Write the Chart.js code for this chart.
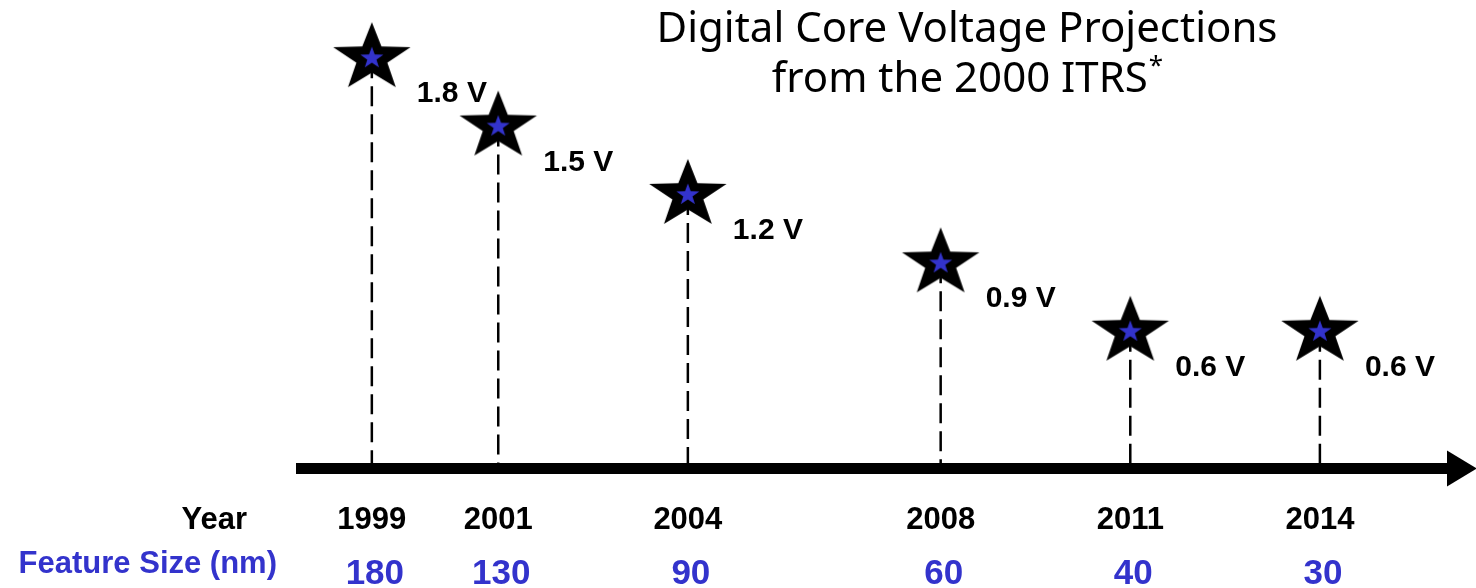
<!DOCTYPE html>
<html>
<head>
<meta charset="utf-8">
<script src="https://cdn.jsdelivr.net/npm/chart.js@4.4.1/dist/chart.umd.min.js"></script>
<style>
  html, body { margin: 0; padding: 0; background: #fff; }
  #wrap { width: 1476px; height: 588px; }
</style>
</head>
<body>
<div id="wrap"><canvas id="volt-chart" width="1476" height="588"></canvas></div>
<script>
const years = [1999, 2001, 2004, 2008, 2011, 2014]
const voltages = [1.8, 1.5, 1.2, 0.9, 0.6, 0.6]
const featureSizes = [180, 130, 90, 60, 40, 30]
const titleLines = ["Digital Core Voltage Projections", "from the 2000 ITRS"]

const blue = "#3333cc"

function starPath(ctx, cx, cy, r, sx, inner) {
    ctx.beginPath()
    for (let i = 0; i < 10; i++) {
        let rad = (i % 2 == 0) ? r : r * inner
        let a = -Math.PI / 2 + i * Math.PI / 5
        let px = cx + Math.cos(a) * rad * sx
        let py = cy + Math.sin(a) * rad
        if (i == 0) ctx.moveTo(px, py)
        else ctx.lineTo(px, py)
    }
    ctx.closePath()
}

function makeStar() {
    let c = document.createElement("canvas")
    c.width = 96
    c.height = 80
    let ctx = c.getContext("2d")
    starPath(ctx, 48, 40, 36, 1.13, 0.4)
    ctx.fillStyle = "#000"
    ctx.fill()
    starPath(ctx, 48, 40, 11.5, 1.05, 0.4)
    ctx.fillStyle = blue
    ctx.fill()
    return c
}

const decorations = {
    id: "decorations",
    beforeDatasetsDraw(chart) {
        let ctx = chart.ctx
        let xs = chart.scales.x
        let ys = chart.scales.y
        let y0 = ys.getPixelForValue(0)
        ctx.save()
        // dashed drops
        ctx.strokeStyle = "#000"
        ctx.lineWidth = 2.5
        ctx.setLineDash([20, 8])
        years.forEach((yr, i) => {
            let px = xs.getPixelForValue(yr)
            ctx.beginPath()
            ctx.moveTo(px, ys.getPixelForValue(voltages[i]))
            ctx.lineTo(px, y0)
            ctx.stroke()
        })
        ctx.setLineDash([])
        // axis arrow
        let left = chart.chartArea.left
        let right = chart.chartArea.right
        ctx.fillStyle = "#000"
        ctx.fillRect(left, y0 - 5.5, right - left - 26, 11)
        ctx.beginPath()
        ctx.moveTo(right - 29, y0 - 18)
        ctx.lineTo(right + 1, y0)
        ctx.lineTo(right - 29, y0 + 18)
        ctx.closePath()
        ctx.fill()
        ctx.restore()
    },
    afterDatasetsDraw(chart) {
        let ctx = chart.ctx
        let xs = chart.scales.x
        let ys = chart.scales.y
        ctx.save()
        // voltage labels
        ctx.font = "bold 30px 'Liberation Sans', Arial, sans-serif"
        ctx.fillStyle = "#000"
        ctx.textAlign = "left"
        ctx.textBaseline = "alphabetic"
        years.forEach((yr, i) => {
            let px = xs.getPixelForValue(yr)
            let py = ys.getPixelForValue(voltages[i])
            ctx.fillText(voltages[i].toFixed(1) + " V", px + 45, py + 44)
        })
        // year row
        ctx.font = "bold 31px 'Liberation Sans', Arial, sans-serif"
        ctx.textAlign = "right"
        ctx.fillText("Year", 247, 529)
        ctx.textAlign = "center"
        years.forEach(yr => {
            ctx.fillText(String(yr), xs.getPixelForValue(yr), 529)
        })
        // feature size row
        ctx.fillStyle = blue
        ctx.textAlign = "right"
        ctx.fillText("Feature Size (nm)", 277, 573)
        ctx.font = "bold 35px 'Liberation Sans', Arial, sans-serif"
        ctx.textAlign = "center"
        years.forEach((yr, i) => {
            ctx.fillText(String(featureSizes[i]), xs.getPixelForValue(yr) + 3, 584)
        })
        // title
        let cx = 967
        let tFont = "42px 'Comic Sans MS', 'Noto Sans', sans-serif"
        let sFont = "26px 'Comic Sans MS', 'Noto Sans', sans-serif"
        ctx.fillStyle = "#000"
        ctx.font = tFont
        ctx.fillText(titleLines[0], cx, 42)
        let w = ctx.measureText(titleLines[1]).width
        ctx.font = sFont
        let wa = ctx.measureText("*").width
        ctx.font = tFont
        ctx.textAlign = "left"
        let startX = cx - (w + wa) / 2
        ctx.fillText(titleLines[1], startX, 92)
        ctx.font = sFont
        ctx.fillText("*", startX + w + 1, 74)
        ctx.restore()
    }
}

;(function () {
    'use strict'

    let canvas = document.getElementById("volt-chart")
    let star = makeStar()
    let config = {
        type: "scatter",
        data: {
            datasets: [
                {
                    data: years.map((yr, i) => ({ x: yr, y: voltages[i] })),
                    pointStyle: star,
                    pointRadius: 40,
                    pointHoverRadius: 40,
                    showLine: false,
                    clip: false
                }
            ]
        },
        options: {
            responsive: false,
            animation: false,
            events: [],
            layout: {
                autoPadding: false,
                padding: { left: 296, right: 0, top: 0, bottom: 119.5 }
            },
            plugins: {
                legend: { display: false },
                tooltip: { enabled: false },
                title: { display: false }
            },
            scales: {
                x: {
                    type: "linear",
                    display: false,
                    min: 1997.8,
                    max: 2016.47
                },
                y: {
                    display: false,
                    min: 0,
                    max: 2.055
                }
            }
        },
        plugins: [decorations]
    }

    let chart = new Chart(canvas, config)
})()
</script>
</body>
</html>
